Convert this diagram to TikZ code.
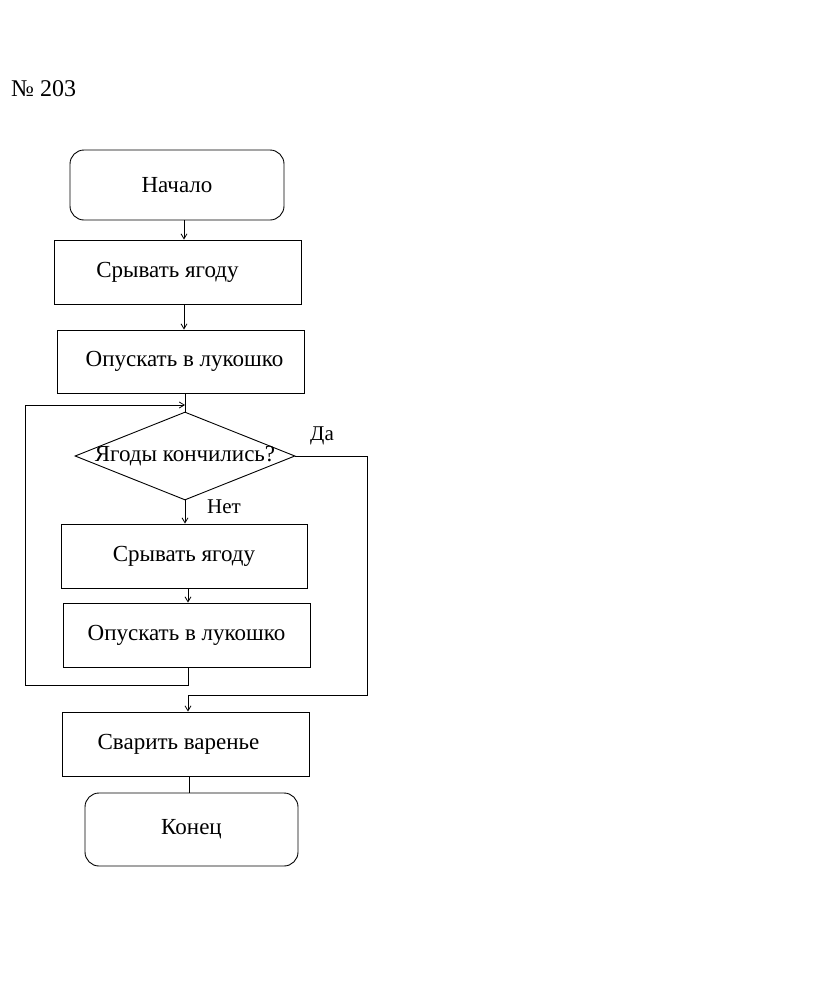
\documentclass[tikz,border=0pt]{standalone}
\usepackage{fontspec}
\setmainfont{Liberation Serif}
\usetikzlibrary{shapes.geometric,arrows.meta}
\begin{document}
\begin{tikzpicture}[x=1pt,y=-1pt,
  every node/.style={font=\fontsize{23}{26}\selectfont},
  box/.style={draw,line width=0.9pt,minimum width=247pt,minimum height=64pt,inner sep=0pt},
  term/.style={draw,line width=0.9pt,rounded corners=14pt,inner sep=0pt},
  dec/.style={draw,line width=0.9pt,diamond,aspect=2.5,inner sep=0pt,minimum width=220pt,minimum height=88pt},
  lab/.style={font=\fontsize{21}{24}\selectfont,inner sep=0pt},
  arr/.style={line width=0.8pt,-{Straight Barb[length=5pt,width=6pt]}},
  ln/.style={line width=0.8pt}]
\useasboundingbox (0,0) rectangle (815,1001);
\node[lab,font=\fontsize{24}{26}\selectfont,anchor=west] (num) at (11,89) {№ 203};
\node[term,minimum width=214pt,minimum height=70pt] (start) at (177,185) {Начало};
\node[box] (b1) at (177.5,272) {Срывать ягоду\hspace*{20pt}};
\node[box,minimum height=63pt] (b2) at (180.5,361.5) {\hspace*{8pt}Опускать в лукошко};
\node[dec] (dia) at (185,456) {};
\node (diat) at (dia.center) {Ягоды кончились?};
\node[box,minimum width=246pt] (b3) at (184,556) {Срывать ягоду};
\node[box] (b4) at (186.5,635) {Опускать в лукошко};
\node[box] (b5) at (185.5,744) {Сварить варенье\hspace*{14pt}};
\node[term,minimum width=213pt,minimum height=73pt] (end) at (191.5,829.5) {Конец};
\node[lab] (yes) at (322,436) {Да};
\node[lab] (no) at (224,507) {Нет};
\coordinate (xa) at (184,0);
\coordinate (xb) at (185,0);
\coordinate (xc) at (188,0);
\coordinate (xd) at (189,0);
\coordinate (j1) at (185,405);
\coordinate (lp) at (25,685);
\coordinate (ry) at (367,456);
\coordinate (j2) at (188,695);
\draw[arr] (xa |- start.south) -- (xa |- b1.north);
\draw[arr] (xa |- b1.south) -- (xa |- b2.north);
\draw[ln] (xb |- b2.south) -- (dia.north);
\draw[arr] (dia.south) -- (dia.south |- b3.north);
\draw[arr] (xc |- b3.south) -- (xc |- b4.north);
\draw[arr] (xc |- b4.south) |- (lp) |- (j1);
\draw[arr] (dia.east) -- (ry) |- (j2) -- (j2 |- b5.north);
\draw[ln] (xd |- b5.south) -- (xd |- end.north);
\end{tikzpicture}
\end{document}
